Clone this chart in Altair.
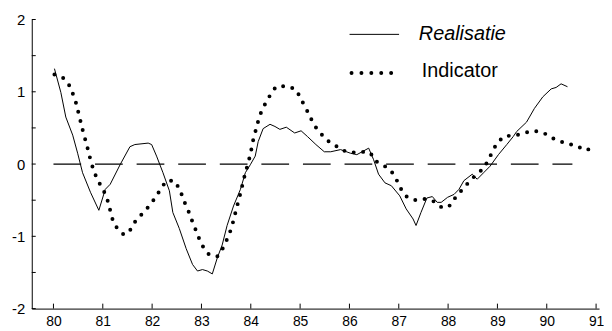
import altair as alt
import pandas as pd

# ---- data ----
real_x = [80.02, 80.15, 80.25, 80.39, 80.49, 80.59, 80.75, 80.92, 81.05, 81.15, 81.35, 81.55, 81.65,
          81.92, 81.99, 82.09, 82.22, 82.35, 82.42, 82.55, 82.69, 82.82, 82.92, 83.02, 83.12, 83.22,
          83.32, 83.42, 83.52, 83.65, 83.79, 83.89, 83.99, 84.09, 84.15, 84.25, 84.39, 84.49, 84.59,
          84.72, 84.89, 85.02, 85.15, 85.32, 85.49, 85.62, 85.82, 86.02, 86.15, 86.39, 86.49, 86.59,
          86.72, 86.85, 87.02, 87.15, 87.29, 87.35, 87.45, 87.57, 87.68, 87.78, 87.86, 87.99, 88.12,
          88.22, 88.32, 88.49, 88.59, 88.72, 88.85, 89.02, 89.19, 89.32, 89.39, 89.59, 89.75, 89.92,
          90.09, 90.19, 90.29, 90.42]
real_y = [1.32, 0.99, 0.65, 0.40, 0.15, -0.12, -0.39, -0.64, -0.35, -0.28, -0.01, 0.24, 0.27,
          0.29, 0.27, 0.11, -0.12, -0.37, -0.67, -0.89, -1.17, -1.39, -1.48, -1.46, -1.48, -1.52,
          -1.30, -1.12, -0.85, -0.58, -0.35, -0.12, -0.01, 0.11, 0.31, 0.49, 0.55, 0.52, 0.48,
          0.51, 0.43, 0.46, 0.38, 0.27, 0.17, 0.17, 0.20, 0.15, 0.13, 0.22, 0.06, -0.14,
          -0.26, -0.30, -0.44, -0.62, -0.76, -0.85, -0.67, -0.47, -0.45, -0.53, -0.53, -0.46, -0.42,
          -0.35, -0.23, -0.14, -0.21, -0.12, -0.03, 0.13, 0.27, 0.38, 0.45, 0.58, 0.77, 0.93,
          1.04, 1.06, 1.11, 1.07]

ind_x = [80.02, 80.20, 80.33, 80.40, 80.46, 80.51, 80.56, 80.61, 80.67, 80.72, 80.77, 80.83, 80.92,
         81.02, 81.10, 81.15, 81.20, 81.29, 81.43, 81.55, 81.67, 81.81, 81.94, 82.06, 82.17, 82.29,
         82.45, 82.57, 82.63, 82.72, 82.79, 82.86, 82.94, 83.02, 83.15, 83.32, 83.43, 83.52, 83.59,
         83.65, 83.70, 83.75, 83.80, 83.84, 83.89, 83.95, 84.00, 84.04, 84.09, 84.14, 84.20, 84.29,
         84.39, 84.51, 84.71, 84.90, 85.00, 85.09, 85.19, 85.27, 85.39, 85.52, 85.69, 85.85, 86.05,
         86.25, 86.42, 86.53, 86.70, 86.85, 86.95, 87.03, 87.17, 87.35, 87.55, 87.72, 87.89, 88.05,
         88.15, 88.29, 88.42, 88.55, 88.72, 88.82, 88.91, 89.00, 89.15, 89.34, 89.54, 89.74, 89.94,
         90.11, 90.27, 90.43, 90.62, 90.81, 90.93]
ind_y = [1.24, 1.19, 1.08, 0.96, 0.84, 0.70, 0.56, 0.42, 0.28, 0.14, 0.01, -0.12, -0.25,
         -0.37, -0.51, -0.64, -0.77, -0.89, -0.98, -0.92, -0.78, -0.68, -0.58, -0.47, -0.35, -0.23,
         -0.23, -0.36, -0.49, -0.62, -0.75, -0.87, -1.01, -1.13, -1.25, -1.28, -1.17, -1.04, -0.92,
         -0.78, -0.64, -0.51, -0.38, -0.26, -0.12, 0.02, 0.16, 0.31, 0.44, 0.57, 0.70, 0.83,
         0.95, 1.07, 1.08, 1.04, 0.93, 0.80, 0.68, 0.55, 0.45, 0.34, 0.27, 0.19, 0.16,
         0.17, 0.16, 0.04, -0.02, -0.10, -0.21, -0.33, -0.46, -0.50, -0.48, -0.52, -0.61, -0.57,
         -0.46, -0.35, -0.25, -0.16, -0.06, 0.06, 0.19, 0.30, 0.39, 0.39, 0.43, 0.46, 0.43,
         0.36, 0.31, 0.29, 0.23, 0.23, 0.13]

zero_x = [80.0, 90.52]
zero_y = [0, 0]

x_ticks = [80, 81, 82, 83, 84, 85, 86, 87, 88, 89, 90, 91]
y_labels = [-2, -1, 0, 1, 2]
y_ticks = [-2, -1.5, -1, -0.5, 0, 0.5, 1, 1.5, 2]
legend_labels = ["Realisatie", "Indicator"]

# ---- chart ----
W, H = 573, 292
FONT = "Liberation Sans"

xscale = alt.Scale(domain=[79.56, 91.06], nice=False, zero=False)
yscale = alt.Scale(domain=[-2, 2], nice=False, zero=False)

xaxis = alt.Axis(values=x_ticks, labelExpr="'' + datum.value", tickSize=0, grid=False, title=None,
                 domainColor="black", domainWidth=1, labelFontSize=14, labelPadding=6,
                 labelColor="black", labelFont=FONT, labelBound=False, labelFlush=False)
yaxis = alt.Axis(values=y_labels, labelExpr="'' + datum.value", tickSize=0, grid=False, title=None,
                 domainColor="black", domainWidth=1, labelFontSize=15, labelPadding=7,
                 labelColor="black", labelFont=FONT)

X = lambda: alt.X("x:Q", scale=xscale, axis=xaxis)
Y = lambda: alt.Y("y:Q", scale=yscale, axis=yaxis)

real_df = pd.DataFrame({"x": real_x, "y": real_y})
ind_df = pd.DataFrame({"x": ind_x, "y": ind_y})
zero_df = pd.DataFrame({"x": zero_x, "y": zero_y})
xt_df = pd.DataFrame({"x": x_ticks})
yt_df = pd.DataFrame({"y": y_ticks})
one = pd.DataFrame({"k": [0]})

real = alt.Chart(real_df).mark_line(color="black", strokeWidth=1).encode(x=X(), y=Y())
ind = alt.Chart(ind_df).mark_line(color="black", strokeWidth=4, strokeDash=[0, 9.5],
                                  strokeCap="round").encode(x=X(), y=Y())
zero = alt.Chart(zero_df).mark_line(color="black", strokeWidth=1.2,
                                    strokeDash=[28, 14]).encode(x=X(), y=Y())
xt = alt.Chart(xt_df).mark_rule(color="black", strokeWidth=1).encode(
    x=X(), y=alt.value(H), y2=alt.value(H - 5))
yt = alt.Chart(yt_df).mark_rule(color="black", strokeWidth=1).encode(
    y=Y(), x=alt.value(0), x2=alt.value(4))

leg1_line = alt.Chart(one).mark_rule(color="black", strokeWidth=1).encode(
    x=alt.value(321), x2=alt.value(371), y=alt.value(15))
leg2_line = alt.Chart(one).mark_rule(color="black", strokeWidth=4, strokeDash=[0, 10],
                                     strokeCap="round").encode(
    x=alt.value(323), x2=alt.value(364), y=alt.value(54))
leg1_text = alt.Chart(one).mark_text(align="left", baseline="middle", fontSize=20,
                                     fontStyle="italic", font=FONT, color="black").encode(
    x=alt.value(391), y=alt.value(15), text=alt.value(legend_labels[0]))
leg2_text = alt.Chart(one).mark_text(align="left", baseline="middle", fontSize=20,
                                     font=FONT, color="black").encode(
    x=alt.value(394), y=alt.value(52), text=alt.value(legend_labels[1]))

chart = alt.layer(zero, real, ind, xt, yt, leg1_line, leg2_line, leg1_text, leg2_text).properties(
    width=W, height=H,
    autosize=alt.AutoSizeParams(type="none"),
    padding={"left": 24, "top": 10, "right": 5, "bottom": 21},
    background="white",
).configure_view(stroke=None)

chart.save("out.html", embed_options={"renderer": "svg", "actions": False})
